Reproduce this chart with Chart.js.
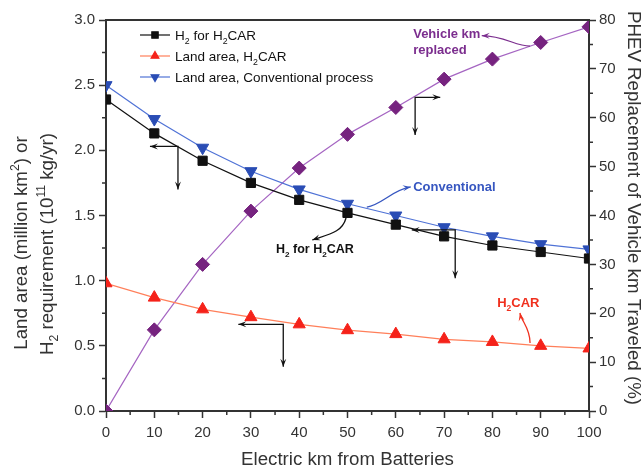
<!DOCTYPE html>
<html lang="en">
<head>
<meta charset="UTF-8">
<title>Land area and H2 requirement vs electric km</title>
<script src="https://cdn.jsdelivr.net/npm/chart.js"></script>
<style>
  body { margin: 0; background: #fff; }
  .chart-wrapper { width: 643px; height: 468px; position: relative; }
</style>
</head>
<body>
<div class="chart-wrapper">
  <canvas id="h2Chart"></canvas>
</div>
<script>
// data
const electricKm = [0, 10, 20, 30, 40, 50, 60, 70, 80, 90, 100];
const h2ForH2car = [2.39, 2.13, 1.92, 1.75, 1.62, 1.52, 1.43, 1.34, 1.27, 1.22, 1.17];
const landH2car = [0.98, 0.87, 0.78, 0.72, 0.665, 0.62, 0.59, 0.55, 0.53, 0.50, 0.48];
const landConventional = [2.50, 2.24, 2.02, 1.84, 1.70, 1.59, 1.50, 1.41, 1.34, 1.28, 1.24];
const vehicleKmReplaced = [0, 16.6, 30.0, 40.9, 49.7, 56.6, 62.1, 67.9, 72.0, 75.4, 78.6];

const FONT = "'Liberation Sans', Arial, sans-serif";
const AXIS = '#333';
const TITLE_SIZE = 18.7;

function pts(ys) { return electricKm.map((x, i) => ({ x: x, y: ys[i] })); }

// text with subscripts / superscripts: parts = [[text, ''|'sub'|'sup'], ...]
function richWidth(ctx, parts, size, weight) {
  let w = 0;
  parts.forEach(([t, m]) => {
    ctx.font = `${weight} ${m ? size * 0.65 : size}px ${FONT}`;
    w += ctx.measureText(t).width;
  });
  return w;
}
function drawRich(ctx, parts, x, y, size, weight, align) {
  let w = richWidth(ctx, parts, size, weight);
  let cx = align === 'center' ? x - w / 2 : x;
  ctx.textAlign = 'left';
  ctx.textBaseline = 'alphabetic';
  parts.forEach(([t, m]) => {
    ctx.font = `${weight} ${m ? size * 0.65 : size}px ${FONT}`;
    let dy = m === 'sub' ? size * 0.28 : (m === 'sup' ? -size * 0.42 : 0);
    ctx.fillText(t, cx, y + dy);
    cx += ctx.measureText(t).width;
  });
}

function arrowHead(ctx, x, y, ang, color) {
  const L = 8, W = 3;
  ctx.save();
  ctx.translate(x, y);
  ctx.rotate(ang);
  ctx.fillStyle = color;
  ctx.beginPath();
  ctx.moveTo(0, 0);
  ctx.lineTo(-L, -W);
  ctx.lineTo(-L * 0.6, 0);
  ctx.lineTo(-L, W);
  ctx.closePath();
  ctx.fill();
  ctx.restore();
}

// elbow arrows (data units on x / left y): corner, horizontal end, vertical end
const elbows = [
  { cx: 14.9, cy: 2.03, hx: 9.1, vy: 1.70 },
  { cx: 64.0, cy: 2.407, hx: 69.2, vy: 2.118 },
  { cx: 36.7, cy: 0.665, hx: 27.4, vy: 0.34 },
  { cx: 72.3, cy: 1.389, hx: 63.3, vy: 1.018 }
];

// curved callouts: cubic curve in data units, label in data units
const callouts = [
  { color: '#7b2d8e', curve: [[87.8, 2.80], [84.7, 2.80], [82.6, 2.877], [77.8, 2.88]],
    lines: [[['Vehicle km', '']], [['replaced', '']]], tx: 63.6, ty: 2.862, size: 13 },
  { color: '#3656c0', curve: [[54.0, 1.565], [57.1, 1.581], [59.2, 1.696], [63.1, 1.719]],
    lines: [[['Conventional', '']]], tx: 63.6, ty: 1.688, size: 13 },
  { color: '#111', curve: [[49.7, 1.481], [48.9, 1.373], [46.4, 1.358], [42.7, 1.312]],
    lines: [[['H', ''], ['2', 'sub'], [' for H', ''], ['2', 'sub'], ['CAR', '']]], tx: 35.2, ty: 1.212, size: 12.5 },
  { color: '#f0301e', curve: [[87.8, 0.522], [87.8, 0.637], [86.1, 0.683], [85.7, 0.752]],
    lines: [[['H', ''], ['2', 'sub'], ['CAR', '']]], tx: 81.0, ty: 0.798, size: 13 }
];

const legendItems = [
  { line: '#111', fill: '#111', style: 'rect', rot: 0, label: [['H', ''], ['2', 'sub'], [' for H', ''], ['2', 'sub'], ['CAR', '']] },
  { line: '#ff7f5a', fill: '#f5221a', style: 'triangle', rot: 0, label: [['Land area, H', ''], ['2', 'sub'], ['CAR', '']] },
  { line: '#4f72d6', fill: '#2a4db5', style: 'triangle', rot: 180, label: [['Land area, Conventional process', '']] }
];

const decorations = {
  id: 'decorations',
  afterDraw(chart) {
    const ctx = chart.ctx;
    const a = chart.chartArea;
    const xs = chart.scales.x, ys = chart.scales.y, y1 = chart.scales.y1;
    const X = v => xs.getPixelForValue(v), Y = v => ys.getPixelForValue(v);
    ctx.save();

    // frame top
    ctx.strokeStyle = AXIS;
    ctx.lineWidth = 2;
    ctx.beginPath();
    ctx.moveTo(a.left - 1, a.top);
    ctx.lineTo(a.right + 1, a.top);
    ctx.stroke();

    // minor ticks
    ctx.lineWidth = 1.5;
    ctx.beginPath();
    for (let v = 5; v < 100; v += 10) { ctx.moveTo(X(v), a.bottom); ctx.lineTo(X(v), a.bottom + 4); }
    for (let v = 0.25; v < 3; v += 0.5) { ctx.moveTo(a.left, Y(v)); ctx.lineTo(a.left - 4, Y(v)); }
    for (let v = 5; v < 80; v += 10) { const p = y1.getPixelForValue(v); ctx.moveTo(a.right, p); ctx.lineTo(a.right + 4, p); }
    ctx.stroke();

    // axis titles
    ctx.fillStyle = AXIS;
    drawRich(ctx, [['Electric km from Batteries', '']], (a.left + a.right) / 2, 465, TITLE_SIZE, 'normal', 'center');
    ctx.save();
    ctx.translate(27, 243);
    ctx.rotate(-Math.PI / 2);
    drawRich(ctx, [['Land area (million km', ''], ['2', 'sup'], [') or', '']], 0, 0, TITLE_SIZE, 'normal', 'center');
    ctx.restore();
    ctx.save();
    ctx.translate(53, 244);
    ctx.rotate(-Math.PI / 2);
    drawRich(ctx, [['H', ''], ['2', 'sub'], [' requirement (10', ''], ['11', 'sup'], [' kg/yr)', '']], 0, 0, TITLE_SIZE, 'normal', 'center');
    ctx.restore();
    ctx.save();
    ctx.translate(628, 208);
    ctx.rotate(Math.PI / 2);
    drawRich(ctx, [['PHEV Replacement of Vehicle km Traveled (%)', '']], 0, 0, TITLE_SIZE, 'normal', 'center');
    ctx.restore();

    // legend
    legendItems.forEach((it, i) => {
      const ly = a.top + 15 + i * 21;
      const lx = a.left + 34;
      ctx.strokeStyle = it.line;
      ctx.lineWidth = 1.2;
      ctx.beginPath();
      ctx.moveTo(lx, ly); ctx.lineTo(lx + 30, ly);
      ctx.stroke();
      ctx.fillStyle = it.fill;
      ctx.strokeStyle = it.fill;
      Chart.helpers.drawPoint(ctx, { pointStyle: it.style, rotation: it.rot, radius: 4.5, borderWidth: 1 }, lx + 15, ly);
      ctx.fillStyle = '#111';
      drawRich(ctx, it.label, lx + 35, ly + 5, 13.5, 'normal', 'left');
    });

    // elbow arrows
    ctx.strokeStyle = '#111';
    ctx.lineWidth = 1.3;
    elbows.forEach(e => {
      const cx = X(e.cx), cy = Y(e.cy), hx = X(e.hx), vy = Y(e.vy);
      ctx.beginPath();
      ctx.moveTo(hx, cy); ctx.lineTo(cx, cy); ctx.lineTo(cx, vy);
      ctx.stroke();
      arrowHead(ctx, hx, cy, hx < cx ? Math.PI : 0, '#111');
      arrowHead(ctx, cx, vy, Math.PI / 2, '#111');
    });

    // callouts
    callouts.forEach(c => {
      const p = c.curve.map(([x, y]) => [X(x), Y(y)]);
      ctx.strokeStyle = c.color;
      ctx.lineWidth = 1.3;
      ctx.beginPath();
      ctx.moveTo(p[0][0], p[0][1]);
      ctx.bezierCurveTo(p[1][0], p[1][1], p[2][0], p[2][1], p[3][0], p[3][1]);
      ctx.stroke();
      const ang = Math.atan2(p[3][1] - p[2][1], p[3][0] - p[2][0]);
      arrowHead(ctx, p[3][0], p[3][1], ang, c.color);
      ctx.fillStyle = c.color;
      c.lines.forEach((ln, k) => {
        drawRich(ctx, ln, X(c.tx), Y(c.ty) + k * 16, c.size, 'bold', 'left');
      });
    });

    ctx.restore();
  }
};

const axisTicks = { font: { family: FONT, size: 15 }, color: AXIS };
const axisGrid = { display: true, drawOnChartArea: false, drawTicks: true, tickLength: 7, tickColor: AXIS, tickWidth: 1.5 };
const axisBorder = { display: true, color: AXIS, width: 2 };

new Chart(document.getElementById('h2Chart').getContext('2d'), {
  type: 'line',
  data: {
    datasets: [
      {
        label: 'H2 for H2CAR', data: pts(h2ForH2car), yAxisID: 'y',
        borderColor: '#111', borderWidth: 1.2, backgroundColor: '#111',
        pointStyle: 'rect', pointRadius: 6.5, pointBorderColor: '#111', pointBorderWidth: 1
      },
      {
        label: 'Land area, H2CAR', data: pts(landH2car), yAxisID: 'y',
        borderColor: '#ff7f5a', borderWidth: 1.2, backgroundColor: '#f5221a',
        pointStyle: 'triangle', pointRadius: 7, pointBorderColor: '#f5221a', pointBorderWidth: 1
      },
      {
        label: 'Land area, Conventional process', data: pts(landConventional), yAxisID: 'y',
        borderColor: '#4f72d6', borderWidth: 1.2, backgroundColor: '#2a4db5',
        pointStyle: 'triangle', pointRotation: 180, pointRadius: 7, pointBorderColor: '#2a4db5', pointBorderWidth: 1
      },
      {
        label: 'Vehicle km replaced', data: pts(vehicleKmReplaced), yAxisID: 'y1',
        borderColor: '#a565c2', borderWidth: 1.2, backgroundColor: '#76237f',
        pointStyle: 'rectRot', pointRadius: 7, pointBorderColor: '#76237f', pointBorderWidth: 1
      }
    ]
  },
  options: {
    responsive: true,
    maintainAspectRatio: false,
    animation: false,
    layout: { padding: { top: 20, left: 0, right: 0, bottom: 0 } },
    elements: { line: { tension: 0 } },
    plugins: { legend: { display: false }, tooltip: { enabled: false } },
    scales: {
      x: {
        type: 'linear', min: 0, max: 100,
        ticks: Object.assign({ stepSize: 10, padding: 6 }, axisTicks),
        grid: axisGrid, border: axisBorder,
        afterFit: s => { s.height = 57; }
      },
      y: {
        position: 'left', min: 0, max: 3,
        ticks: Object.assign({ stepSize: 0.5, padding: 4, callback: v => v.toFixed(1) }, axisTicks),
        grid: axisGrid, border: axisBorder,
        afterFit: s => { s.width = 106; }
      },
      y1: {
        position: 'right', min: 0, max: 80,
        ticks: Object.assign({ stepSize: 10, padding: 3 }, axisTicks),
        grid: axisGrid, border: axisBorder,
        afterFit: s => { s.width = 54; }
      }
    }
  },
  plugins: [decorations]
});
</script>
</body>
</html>
